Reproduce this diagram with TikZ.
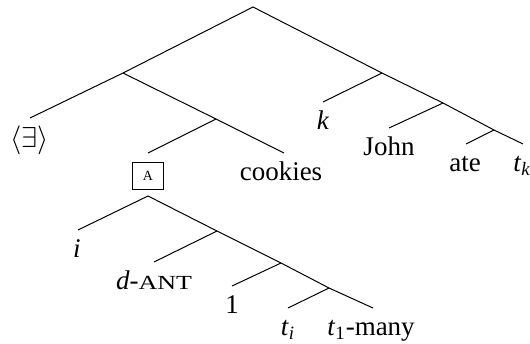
\documentclass[tikz,border=0pt]{standalone}
\usepackage{fontspec}
\usepackage{amsmath}
\setmainfont{Liberation Serif}
\tikzset{
	leaf/.style={anchor=base, inner sep=0pt, font=\fontsize{13.5}{16}\selectfont},
	branch/.style={line width=0.5pt},
	abox/.style={draw, line width=0.5pt, minimum width=15.5pt, minimum height=13.5pt, inner sep=0pt, font=\fontsize{7}{8}\selectfont},
}
\begin{document}
\begin{tikzpicture}[x=0.5pt, y=-0.5pt]
	\useasboundingbox (0,0) rectangle (530,343);
	% upper tree
	\coordinate (root) at (253,7);
	\coordinate (lft) at (123,73);
	\coordinate (lftR) at (216,119);
	\coordinate (rgt) at (382,73);
	\coordinate (rgtR) at (443,103);
	\coordinate (rgtRR) at (494,130);
	\coordinate (eE) at (30,118);
	\coordinate (eA) at (148,153);
	\coordinate (eCook) at (284,153);
	\coordinate (eK) at (323,102);
	\coordinate (eJohn) at (389,128);
	\coordinate (eAte) at (466,144);
	\coordinate (eTk) at (523,144);
		\node[leaf] (ex) at (30,147) {$\langle\exists\rangle$};
		\node[abox] (boxA) at (148,175.5) {A};
		\node[leaf] (cook) at (281,180) {cookies};
		\node[leaf] (k) at (323,129) {\textit{k}};
		\node[leaf] (john) at (389,155) {John};
		\node[leaf] (ate) at (465,171) {ate};
		\node[leaf, anchor=base west] (tk) at (513,171) {\textit{t}$_{\textit{k}}$};
	\draw[branch] (eE)--(lft)--(root)--(rgt)--(rgtR)--(rgtRR)--(eTk);
	\draw[branch] (lft)--(lftR)--(eCook);
	\draw[branch] (lftR)--(eA);
	\draw[branch] (rgt)--(eK);
	\draw[branch] (rgtR)--(eJohn);
	\draw[branch] (rgtRR)--(eAte);
	% tree under the box
	\coordinate (sub) at (148,196);
	\coordinate (sub1) at (217,231);
	\coordinate (sub2) at (281,263);
	\coordinate (sub3) at (329,288);
	\coordinate (eI) at (78,230);
	\coordinate (eAnt) at (154,262);
	\coordinate (eOne) at (232,286);
	\coordinate (eTi) at (288,308);
	\coordinate (eMany) at (373,308);
		\node[leaf] (i) at (77,257) {\textit{i}};
		\node[leaf] (ant) at (154,289) {\textit{d}-\scalebox{1.3}[1]{\fontsize{10}{12}\selectfont ANT}};
		\node[leaf] (one) at (232,313) {1};
		\node[leaf] (ti) at (288,335) {\textit{t}$_{\textit{i}}$};
		\node[leaf] (many) at (371,335) {\textit{t}$_{\textup{1}}$-many};
	\draw[branch] (eI)--(sub)--(sub1)--(sub2)--(sub3)--(eMany);
	\draw[branch] (sub1)--(eAnt);
	\draw[branch] (sub2)--(eOne);
	\draw[branch] (sub3)--(eTi);
\end{tikzpicture}
\end{document}
